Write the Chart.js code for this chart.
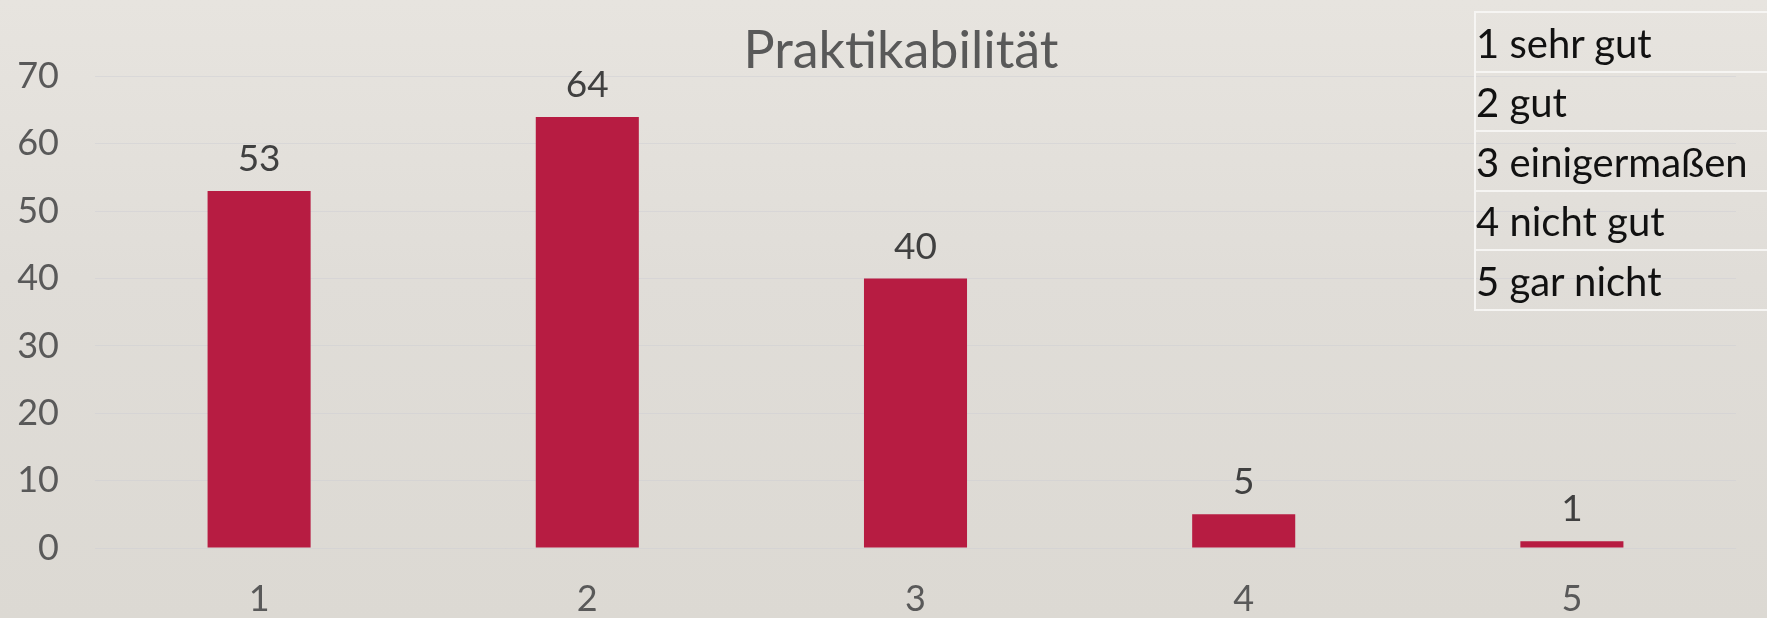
<!DOCTYPE html>
<html>
<head>
<meta charset="utf-8">
<script src="https://cdn.jsdelivr.net/npm/chart.js@4/dist/chart.umd.min.js"></script>
<style>
  html, body { margin: 0; padding: 0; width: 1767px; height: 618px; overflow: hidden; }
  body {
    background: linear-gradient(180deg, #e7e4df 0%, #e0ddd8 45%, #dcd9d3 100%);
    font-family: Lato, "Open Sans", sans-serif;
    position: relative;
  }
  #wrap { position: absolute; left: 0; top: 0; width: 1767px; height: 618px; }
  #title {
    position: absolute; left: 901px; top: 22px; transform: translateX(-50%);
    font-size: 52px; line-height: 52px; color: #595959; white-space: nowrap;
  }
  #legend { position: absolute; left: 1474px; top: 11px; width: 340px; }
  .row {
    box-sizing: border-box; height: 59.6px; border-left: 2px solid #f6f5f3; border-top: 2px solid #f6f5f3;
    font-size: 40px; line-height: 48px; padding-top: 5.5px; color: #111; white-space: nowrap;
  }
  .row:last-child { border-bottom: 2px solid #f6f5f3; height: 61.6px; }
</style>
</head>
<body>
<div id="wrap"><canvas id="c" width="1767" height="618"></canvas></div>
<div id="title"></div>
<div id="legend"></div>
<script>
const chartTitle = 'Praktikabilität';
const categories = ['1', '2', '3', '4', '5'];
const values = [53, 64, 40, 5, 1];
const legendLabels = ['1 sehr gut', '2 gut', '3 einigermaßen', '4 nicht gut', '5 gar nicht'];
const yMin = 0, yMax = 70, yStep = 10;

document.getElementById('title').textContent = chartTitle;
const lg = document.getElementById('legend');
legendLabels.forEach(t => { const d = document.createElement('div'); d.className = 'row'; d.textContent = t; lg.appendChild(d); });

const valueLabels = {
  id: 'valueLabels',
  afterDatasetsDraw(chart) {
    const ctx = chart.ctx;
    const meta = chart.getDatasetMeta(0);
    ctx.save();
    ctx.font = '37px Lato';
    ctx.fillStyle = '#404040';
    ctx.textAlign = 'center';
    ctx.textBaseline = 'alphabetic';
    meta.data.forEach((bar, i) => {
      ctx.fillText(String(chart.data.datasets[0].data[i]), bar.x, bar.y - 20);
    });
    ctx.restore();
  }
};

new Chart(document.getElementById('c'), {
  type: 'bar',
  data: {
    labels: categories,
    datasets: [{
      data: values,
      backgroundColor: '#b71c42',
      borderWidth: 0,
      barPercentage: 0.314,
      categoryPercentage: 1
    }]
  },
  options: {
    responsive: false,
    animation: false,
    devicePixelRatio: 1,
    layout: { padding: { top: 76.5, right: 31, left: 0, bottom: 0 } },
    plugins: { legend: { display: false }, title: { display: false }, tooltip: { enabled: false } },
    scales: {
      x: {
        grid: { display: false, drawTicks: false },
        border: { display: false },
        ticks: { color: '#595959', font: { family: 'Lato', size: 36 }, padding: 30 },
        afterFit(s) { s.height = 70; }
      },
      y: {
        min: yMin, max: yMax,
        grid: { color: 'rgba(205,205,212,0.5)', lineWidth: 1, drawTicks: false },
        border: { display: false },
        ticks: { stepSize: yStep, color: '#595959', font: { family: 'Lato', size: 36 }, padding: 36 },
        afterFit(s) { s.width = 95; }
      }
    }
  },
  plugins: [valueLabels]
});
</script>
</body>
</html>
